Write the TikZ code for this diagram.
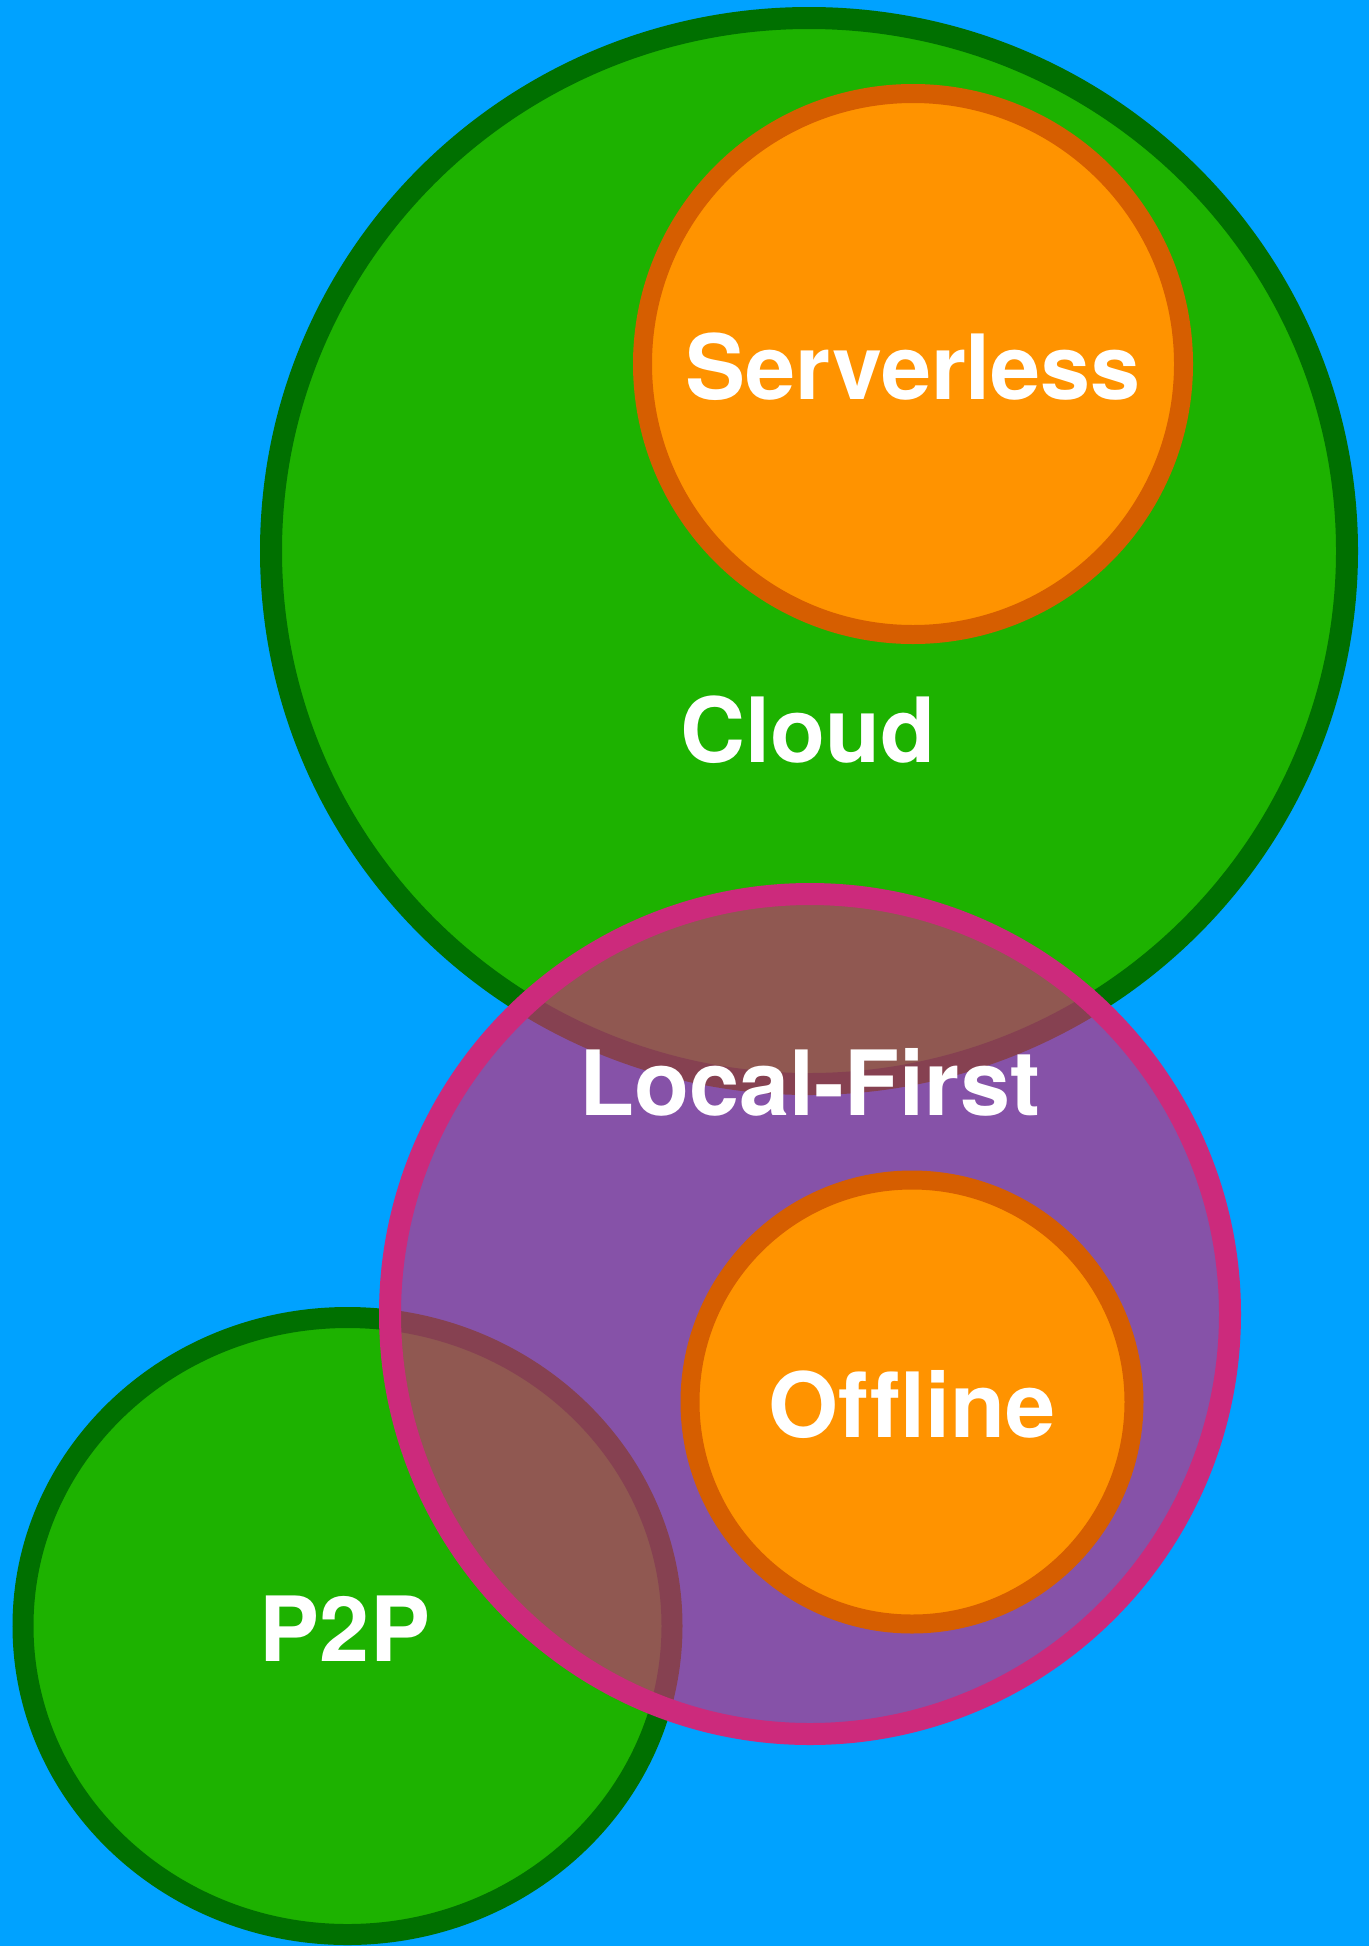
\documentclass[tikz,border=0pt]{standalone}
\usepackage{fontspec}
\setmainfont{TeX Gyre Heros}[Ligatures=NoCommon]
\usepackage{xcolor}
\usepackage{tikz}
\usetikzlibrary{shapes.geometric}
\definecolor{skyc}{RGB}{0,162,255}
\definecolor{grnc}{RGB}{29,178,0}
\definecolor{grnd}{RGB}{0,112,0}
\definecolor{orgc}{RGB}{255,147,0}
\definecolor{orgd}{RGB}{214,94,0}
\definecolor{magc}{RGB}{204,42,124}

\begin{document}
\begin{tikzpicture}[x=1pt,y=-1pt,
  lbl/.style={text=white,font=\fontsize{90}{90}\selectfont\bfseries,inner sep=0pt},
  blob/.style={ellipse,inner sep=0pt,outer sep=0pt,line width=21pt}]
\useasboundingbox[fill=skyc] (0,0) rectangle (1369,1946);
% big cloud with serverless inside it
\node[blob,fill=grnc,draw=grnd,line width=22pt,minimum width=1076pt,minimum height=1066pt] (cloud) at (809,551) {};
\node[blob,circle,fill=orgc,draw=orgd,line width=19pt,minimum size=541pt] (srvl) at (913,364) {};
% p2p, bottom left
\node[blob,fill=grnc,draw=grnd,minimum width=649pt,minimum height=617pt] (p2p) at (347.5,1626) {};
% local-first lies over both, see-through fill
\node[blob,circle,fill=magc,fill opacity=0.66,draw=magc,line width=22pt,minimum size=840pt] (lf) at (810,1314) {};
\node[blob,circle,fill=orgc,draw=orgd,line width=19pt,minimum size=444pt] (offl) at (912,1402) {};
% labels
\node[lbl] (srvl-t) at (913,367) {Serverless};
\node[lbl] (cloud-t) at (808,730) {Cloud};
\node[lbl] (lf-t) at (810,1082) {Local-First};
\node[lbl] (offl-t) at (912,1404) {Offline};
\node[lbl] (p2p-t) at (345,1629) {P2P};
\end{tikzpicture}
\end{document}
